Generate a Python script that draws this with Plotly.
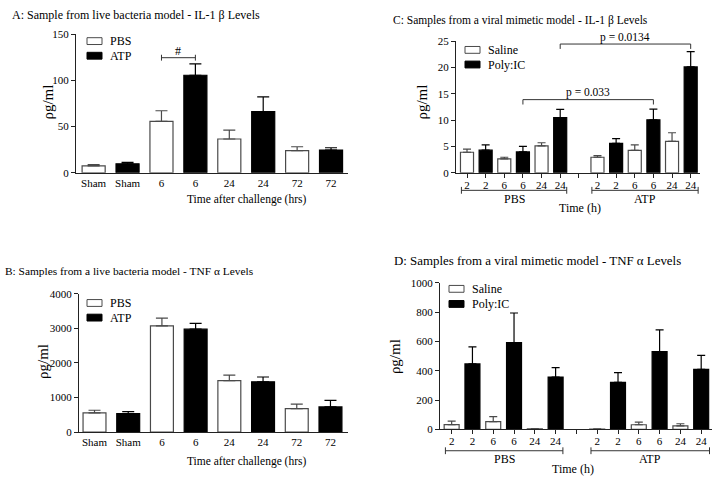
import plotly.graph_objects as go

# ---------------- data ----------------
A_labels = ["Sham", "Sham", "6", "6", "24", "24", "72", "72"]
A_pbs = [7.4, 55.6, 36.6, 24.0]
A_pbs_sem = [1.4, 11.6, 9.5, 4.2]
A_atp = [9.8, 105.6, 66.2, 24.6]
A_atp_sem = [1.5, 12.4, 16.1, 2.5]

B_labels = ["Sham", "Sham", "6", "6", "24", "24", "72", "72"]
B_pbs = [560, 3070, 1490, 680]
B_pbs_sem = [75, 225, 160, 130]
B_atp = [535, 2975, 1455, 730]
B_atp_sem = [57, 170, 140, 190]

C_labels = ["2", "2", "6", "6", "24", "24", "", "2", "2", "6", "6", "24", "24"]
C_saline = [3.9, 2.65, 5.1, 2.95, 4.25, 5.95]
C_saline_sem = [0.6, 0.3, 0.6, 0.3, 1.05, 1.65]
C_poly = [4.3, 3.95, 10.5, 5.6, 10.05, 20.1]
C_poly_sem = [1.0, 1.05, 1.55, 0.9, 2.05, 2.9]

D_labels = ["2", "2", "6", "6", "24", "24", "", "2", "2", "6", "6", "24", "24"]
D_saline = [32, 53, 3, 2, 31, 23]
D_saline_sem = [24, 33, 2, 1, 18, 15]
D_poly = [447, 593, 357, 321, 531, 409]
D_poly_sem = [117, 202, 65, 66, 149, 96]

AB_series = ["PBS", "ATP"]
CD_series = ["Saline", "Poly:IC"]
CD_groups = ["PBS", "ATP"]

# positions of bars
AB_pos_1 = [0, 2, 4, 6]
AB_pos_2 = [1, 3, 5, 7]
CD_pos_1 = [0, 2, 4, 7, 9, 11]
CD_pos_2 = [1, 3, 5, 8, 10, 12]

W, H = 716, 486
FONT = "Liberation Serif, Times New Roman, serif"
EDGE = "#4a4a4a"


def px(x):
    return x / W


def py(y):
    return 1 - y / H


fig = go.Figure()


def add_bars(xa, ya, pos1, v1, e1, pos2, v2, e2, width, cap):
    fig.add_trace(go.Bar(
        x=pos1, y=v1, width=width, xaxis=xa, yaxis=ya,
        marker=dict(color="white", line=dict(color=EDGE, width=1.2)),
        error_y=dict(type="data", array=e1, arrayminus=[0] * len(e1), symmetric=False,
                     color=EDGE, thickness=1.2, width=cap),
        showlegend=False, hoverinfo="skip"))
    fig.add_trace(go.Bar(
        x=pos2, y=v2, width=width, xaxis=xa, yaxis=ya,
        marker=dict(color="black", line=dict(color="black", width=1.2)),
        error_y=dict(type="data", array=e2, arrayminus=[0] * len(e2), symmetric=False,
                     color="black", thickness=1.2, width=cap),
        showlegend=False, hoverinfo="skip"))


add_bars("x", "y", AB_pos_1, A_pbs, A_pbs_sem, AB_pos_2, A_atp, A_atp_sem, 0.68, 6)
add_bars("x2", "y2", AB_pos_1, B_pbs, B_pbs_sem, AB_pos_2, B_atp, B_atp_sem, 0.68, 6)
add_bars("x3", "y3", CD_pos_1, C_saline, C_saline_sem, CD_pos_2, C_poly, C_poly_sem, 0.7, 4)
add_bars("x4", "y4", CD_pos_1, D_saline, D_saline_sem, CD_pos_2, D_poly, D_poly_sem, 0.72, 4)

tickfont = dict(family=FONT, size=11, color="black")


def xax(domain, rng, labels, ticks):
    d = dict(domain=[px(domain[0]), px(domain[1])], range=rng,
             tickvals=list(range(len(labels))), ticktext=labels,
             showline=True, linecolor="#222", linewidth=1,
             ticks="outside" if ticks else "", ticklen=4, tickcolor="#222",
             showgrid=False, zeroline=False, tickfont=tickfont, fixedrange=True)
    if ticks:
        d["ticklabelstandoff"] = -2
    return d


def yax(domain, rng, dtick):
    return dict(domain=[py(domain[1]), py(domain[0])], range=rng, dtick=dtick,
                showline=True, linecolor="#222", linewidth=1,
                ticks="outside", ticklen=4, tickcolor="#222",
                showgrid=False, zeroline=False, tickfont=tickfont, fixedrange=True)


fig.update_layout(
    width=W, height=H, margin=dict(l=0, r=0, t=0, b=0),
    paper_bgcolor="white", plot_bgcolor="white",
    barmode="overlay", showlegend=False,
    font=dict(family=FONT, color="black"),
    xaxis=dict(xax((76, 348), [-0.52, 7.5], A_labels, False), anchor="y"),
    yaxis=dict(yax((29, 171), [0, 150], 50), anchor="x"),
    xaxis2=dict(xax((79, 348), [-0.46, 7.52], B_labels, False), anchor="y2"),
    yaxis2=dict(yax((295, 437), [0, 4000], 1000), anchor="x2"),
    xaxis3=dict(xax((456, 700), [-0.59, 12.5], C_labels, True), anchor="y3"),
    yaxis3=dict(yax((36, 171), [0, 25], 5), anchor="x3"),
    xaxis4=dict(xax((440, 712), [-0.56, 12.52], D_labels, True), anchor="y4"),
    yaxis4=dict(yax((284, 434), [0, 1000], 200), anchor="x4"),
)

ann = []
shapes = []


def text(x, y, s, size=12, xanchor="center", angle=0, xref="paper"):
    ann.append(dict(x=px(x) if xref == "paper" else x, y=py(y),
                    xref=xref, yref="paper", text=s, showarrow=False,
                    xanchor=xanchor, yanchor="middle", textangle=angle,
                    font=dict(family=FONT, size=size, color="black")))


# titles
text(10, 9, "A: Sample from live bacteria model - IL-1 β Levels", 12, "left")
text(3, 272, "B: Samples from a live bacteria model - TNF α Levels", 11.4, "left")
text(391, 15, "C: Samples from a viral mimetic model - IL-1 β Levels", 11.5, "left")
text(392, 261, "D: Samples from a viral mimetic model - TNF α Levels", 12.9, "left")

# y titles
text(48, 99, "ρg/ml", 15, angle=-90)
text(43, 365, "ρg/ml", 15, angle=-90)
text(422, 99, "ρg/ml", 15, angle=-90)
text(395, 360, "ρg/ml", 15, angle=-90)

# x titles
text(246, 198, "Time after challenge (hrs)", 11.5)
text(246, 467, "Time after challenge (hrs)", 11.5)
text(580, 207, "Time (h)", 12)
text(573, 475, "Time (h)", 12)


# legends
def legend(x0, y1, y2, names):
    for yc, name, fill in ((y1, names[0], "white"), (y2, names[1], "black")):
        shapes.append(dict(type="rect", xref="paper", yref="paper",
                           x0=px(x0), x1=px(x0 + 15), y0=py(yc + 3.5), y1=py(yc - 3.5),
                           line=dict(color="black" if fill == "black" else EDGE, width=1),
                           fillcolor=fill))
        text(x0 + 21, yc, name, 12, "left")


legend(87, 36, 51, AB_series)
legend(87, 304.5, 319.5, AB_series)
legend(465, 45, 60, CD_series)
legend(449, 290, 305.5, CD_series)


def line(xr, x0, y0, x1, y1, color="#333"):
    shapes.append(dict(type="line", xref=xr, yref="paper", x0=x0, y0=py(y0), x1=x1, y1=py(y1),
                       line=dict(color=color, width=1)))


# "#" bracket panel A (x data, y in pixels)
ya_b = 53
line("x", 2, ya_b, 3, ya_b)
line("x", 2, ya_b - 3, 2, ya_b + 3)
line("x", 3, ya_b - 3, 3, ya_b + 3)
text(2.5, 46, "#", 12, xref="x")

# p brackets panel C
for (xa0, xa1, yp, lab) in ((3, 10, 96, "p = 0.033"), (5, 12, 39, "p = 0.0134")):
    line("x3", xa0, yp, xa1, yp)
    line("x3", xa0, yp, xa0, yp + 5)
    line("x3", xa1, yp, xa1, yp + 5)
    text((xa0 + xa1) / 2, yp - 7, lab, 11.5, xref="x3")

# group brackets panels C, D
for xr, yb, yl in (("x3", 189, 197), ("x4", 456, 463)):
    for (g0, g1, name) in ((-0.3, 5.35, CD_groups[0]), (6.7, 12.4, CD_groups[1])):
        line(xr, g0, yb, g1, yb)
        line(xr, g0, yb - 3.5, g0, yb + 3.5)
        line(xr, g1, yb - 3.5, g1, yb + 3.5)
        text((g0 + g1) / 2, yl + 1, name, 12, xref=xr)

fig.update_layout(annotations=ann, shapes=shapes)
fig.write_html("out.html", post_script="document.body.style.margin='0';",
               config={"displayModeBar": False})
